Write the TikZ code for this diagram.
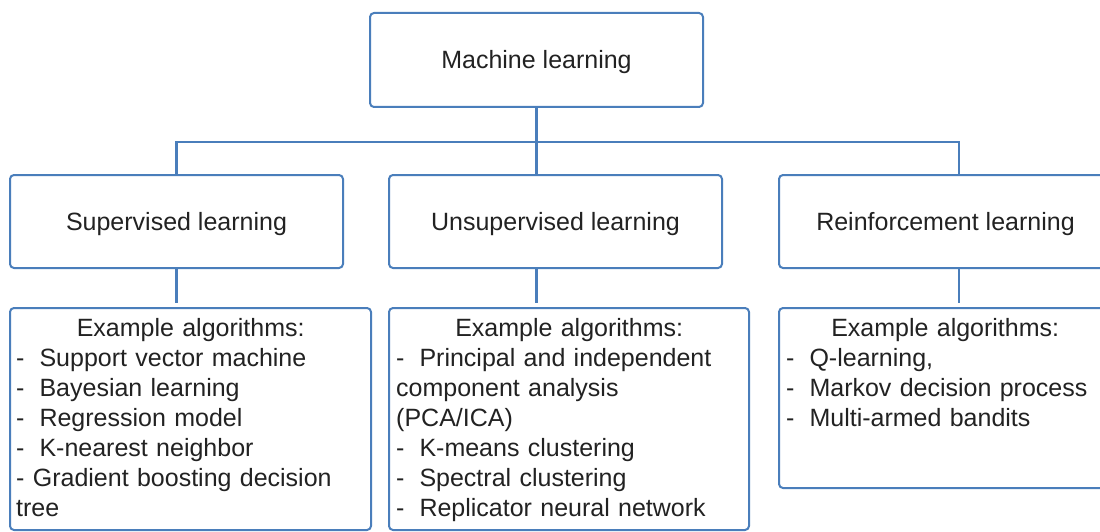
\documentclass[tikz,border=0pt]{standalone}
\usepackage{fontspec}
\setmainfont{Liberation Sans}
\usetikzlibrary{calc}
\definecolor{mlblue}{HTML}{4A7EBB}
\definecolor{mltext}{HTML}{222222}
% list item: a dash followed by a fixed gap
\newcommand{\algitem}{-\hspace{15pt}}
\newcommand{\listhead}{\rule{0pt}{20pt}\makebox[\linewidth][c]{Example algorithms:}}

\begin{document}
\begin{tikzpicture}[x=1pt,y=-1pt,
  box/.style={draw=mlblue, line width=2pt, rounded corners=4pt, fill=white, inner sep=0pt,
              font=\fontsize{25}{30}\selectfont, text=mltext, text depth=1pt},
  list/.style={font=\fontsize{25}{30}\selectfont, text=mltext, align=left,
               inner sep=0pt, anchor=north west},
  link/.style={draw=mlblue, line width=2.5pt},
  sublink/.style={link, shorten >=4pt}]
\useasboundingbox (0,0) rectangle (1100,532);
\clip (0,0) rectangle (1100,532);

% root
\node[box, minimum width=333pt, minimum height=94pt] (ml) at (536.5,60) {Machine learning};

% learning paradigms
\node[box, minimum width=333pt, minimum height=93pt] (sl) at (176.5,221.5) {Supervised learning};
\node[box, minimum width=333pt, minimum height=93pt] (ul) at (555.5,221.5) {Unsupervised learning};
\node[box, minimum width=333pt, minimum height=93pt] (rl) at (945.5,221.5) {Reinforcement learning};

% algorithm boxes
\node[box, minimum width=361pt, minimum height=222pt] (sa) at (190.5,419) {};
\node[box, minimum width=360pt, minimum height=222pt] (ua) at (569,419) {};
\node[box, minimum width=332pt, minimum height=180pt] (ra) at (945,398) {};

\node[list, text width=349pt] (sat) at (16,316) {\listhead\\
\algitem Support vector machine\\
\algitem Bayesian learning\\
\algitem Regression model\\
\algitem K-nearest neighbor\\
- Gradient boosting decision\\
tree};

\node[list, text width=346pt] (uat) at (396,316) {\listhead\\
\algitem Principal and independent\\
component analysis\\
(PCA/ICA)\\
\algitem K-means clustering\\
\algitem Spectral clustering\\
\algitem Replicator neural network};

\node[list, text width=318pt] (rat) at (786,316) {\listhead\\
\algitem Q-learning,\\
\algitem Markov decision process\\
\algitem Multi-armed bandits};

% connectors
\coordinate (bar) at (0,142);
\coordinate (rx) at ($(rl.north)+(13.5,0)$);
\draw[link] (ml.south) -- (ml.south |- ul.north);
\draw[link] (sl.north) -- (sl.north |- bar) -- (rx |- bar) -- (rx);
\draw[sublink] (sl.south) -- (sl.south |- sa.north);
\draw[sublink] (ml.south |- ul.south) -- (ml.south |- ua.north);
\draw[sublink] (rx |- rl.south) -- (rx |- ra.north);
\end{tikzpicture}
\end{document}
